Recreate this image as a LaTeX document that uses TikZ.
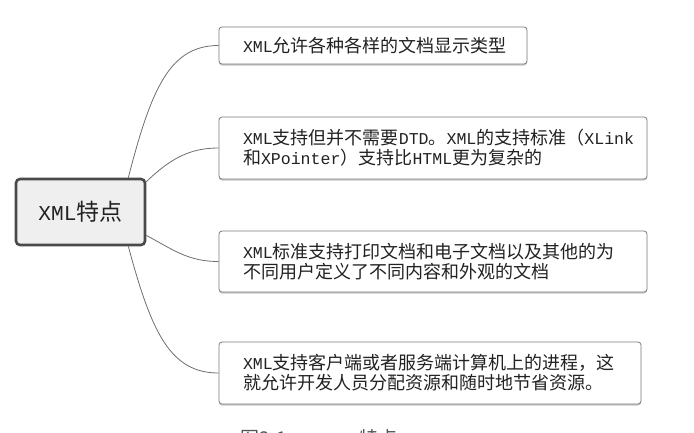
\documentclass[tikz,border=0pt]{standalone}
\usepackage{fontspec}
\setmainfont{Noto Sans CJK SC}
\newfontfamily\latf{Liberation Mono}[Scale=0.92]
\newcommand\la[1]{{\latf #1}}
\usetikzlibrary{shadows}
\definecolor{ink}{HTML}{222222}
\definecolor{rootborder}{HTML}{4A4A4A}
\definecolor{rootfill}{HTML}{EFEFEF}
\definecolor{leafborder}{HTML}{7A7A7A}
\definecolor{connc}{HTML}{6E6E6E}
\begin{document}
\begin{tikzpicture}[x=1pt,y=-1pt,
  root/.style={draw=rootborder, line width=2.6pt, fill=rootfill, rounded corners=4pt,
    text=ink, font=\fontsize{23}{25}\selectfont, inner sep=0pt},
  leaf/.style={draw=leafborder, line width=0.8pt, fill=white, rounded corners=3pt,
    text=ink, font=\fontsize{18}{20}\selectfont, align=left, inner xsep=24pt, inner ysep=0pt,
    drop shadow={shadow xshift=0pt, shadow yshift=-1.5pt, fill=gray!55, opacity=0.8}},
  conn/.style={draw=connc, line width=0.8pt},
  captext/.style={text=gray!65!black, font=\fontsize{19}{21}\selectfont, inner sep=0pt, anchor=north west}]
\useasboundingbox (0,0) rectangle (694,432);
\clip (0,0) rectangle (694,432);

\node[root, minimum width=129pt, minimum height=66pt] (c) at (80.5,212) {\la{XML}特点};

\node[leaf, minimum width=308pt, minimum height=37pt, text width=260pt] (b1) at (373,45.5)
  {\la{XML}允许各种各样的文档显示类型};
\node[leaf, minimum width=428pt, minimum height=62pt, text width=380pt] (b2) at (433,148)
  {\la{XML}支持但并不需要\la{DTD}。\la{XML}的支持标准（\la{XLink}\\和\la{XPointer}）支持比\la{HTML}更为复杂的};
\node[leaf, minimum width=428pt, minimum height=61pt, text width=380pt] (b3) at (433,261.5)
  {\la{XML}标准支持打印文档和电子文档以及其他的为\\不同用户定义了不同内容和外观的文档};
\node[leaf, minimum width=422pt, minimum height=62pt, text width=374pt] (b4) at (430,373)
  {\la{XML}支持客户端或者服务端计算机上的进程，这\\就允许开发人员分配资源和随时地节省资源。};

\draw[conn] ([xshift=-18pt]c.north east) .. controls +(23,-89) and +(-49,0) .. (b1.west);
\draw[conn] ([yshift=-4pt]c.north east) .. controls +(24,-23) and +(-29,0) .. (b2.west);
\draw[conn] ([yshift=11pt]c.south east) .. controls +(29,16) and +(-29,0) .. (b3.west);
\draw[conn] ([xshift=-18pt]c.south east) .. controls +(23,85) and +(-49,0) .. (b4.west);

\node[captext] (caption) at (240,429.5) {图2-1\quad\la{XML}\hspace{22pt}特点};
\end{tikzpicture}
\end{document}
